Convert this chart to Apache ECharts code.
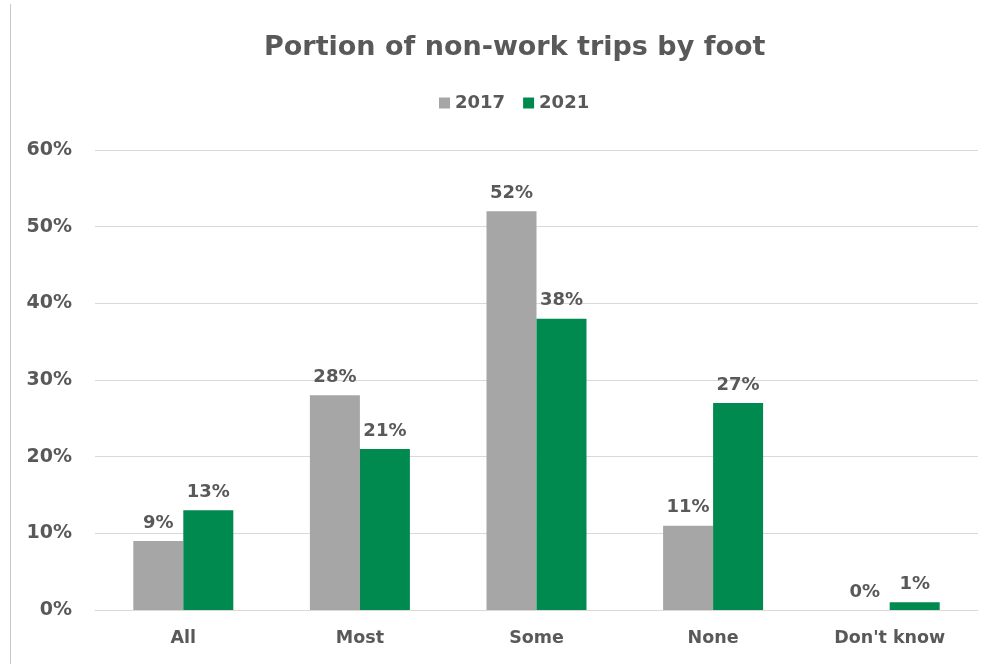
<!DOCTYPE html>
<html>
<head>
<meta charset="utf-8">
<script src="https://cdn.jsdelivr.net/npm/echarts@6/dist/echarts.min.js"></script>
<style>
  html, body { margin: 0; padding: 0; background: #ffffff; }
  #chart { width: 991px; height: 667px; }
</style>
</head>
<body>
<div id="chart"></div>
<script>
// Share of non-work trips made on foot, by survey year
const categories = ['All', 'Most', 'Some', 'None', "Don't know"];
const values2017 = [9, 28, 52, 11, 0];
const values2021 = [13, 21, 38, 27, 1];
const yTicks = [0, 10, 20, 30, 40, 50, 60];

const textColor = '#595959';
const fontFamily = '"DejaVu Sans", "Open Sans", sans-serif';

const chart = echarts.init(document.getElementById('chart'), null, { renderer: 'canvas' });

const labelStyle = {
  show: true,
  position: 'top',
  distance: 9,
  formatter: p => p.value + '%',
  color: textColor,
  fontFamily: fontFamily,
  fontWeight: 'bold',
  fontSize: 18
};

chart.setOption({
  backgroundColor: '#ffffff',
  animation: false,
  title: {
    text: 'Portion of non-work trips by foot',
    left: 259,
    top: 29,
    textStyle: {
      color: textColor,
      fontFamily: fontFamily,
      fontWeight: 'bold',
      fontSize: 27
    }
  },
  legend: {
    top: 89,
    left: 434,
    itemWidth: 11,
    itemHeight: 11,
    itemGap: 18,
    icon: 'rect',
    textStyle: {
      color: textColor,
      fontFamily: fontFamily,
      fontWeight: 'bold',
      fontSize: 18
    },
    data: ['2017', '2021']
  },
  grid: {
    left: 95,
    right: 13,
    top: 150,
    bottom: 57,
    containLabel: false
  },
  xAxis: {
    type: 'category',
    data: categories,
    axisTick: { show: false },
    axisLine: { lineStyle: { color: '#d9d9d9', width: 1 } },
    axisLabel: {
      margin: 19,
      color: textColor,
      fontFamily: fontFamily,
      fontWeight: 'bold',
      fontSize: 17.5
    }
  },
  yAxis: {
    type: 'value',
    min: yTicks[0],
    max: yTicks[yTicks.length - 1],
    interval: yTicks[1] - yTicks[0],
    axisLine: { show: false },
    axisTick: { show: false },
    splitLine: { lineStyle: { color: '#d9d9d9', width: 1 } },
    axisLabel: {
      margin: 23,
      formatter: v => v + '%',
      color: textColor,
      fontFamily: fontFamily,
      fontWeight: 'bold',
      fontSize: 19
    }
  },
  series: [
    {
      name: '2017',
      type: 'bar',
      data: values2017,
      barWidth: 50,
      barGap: '0%',
      itemStyle: { color: '#a6a6a6' },
      label: labelStyle
    },
    {
      name: '2021',
      type: 'bar',
      data: values2021,
      barWidth: 50,
      barGap: '0%',
      itemStyle: { color: '#008a4f' },
      label: labelStyle
    }
  ],
  graphic: [
    {
      type: 'line',
      shape: { x1: 10.5, y1: 4, x2: 10.5, y2: 664 },
      style: { stroke: '#c8c8c8', lineWidth: 1 }
    }
  ]
});
</script>
</body>
</html>
